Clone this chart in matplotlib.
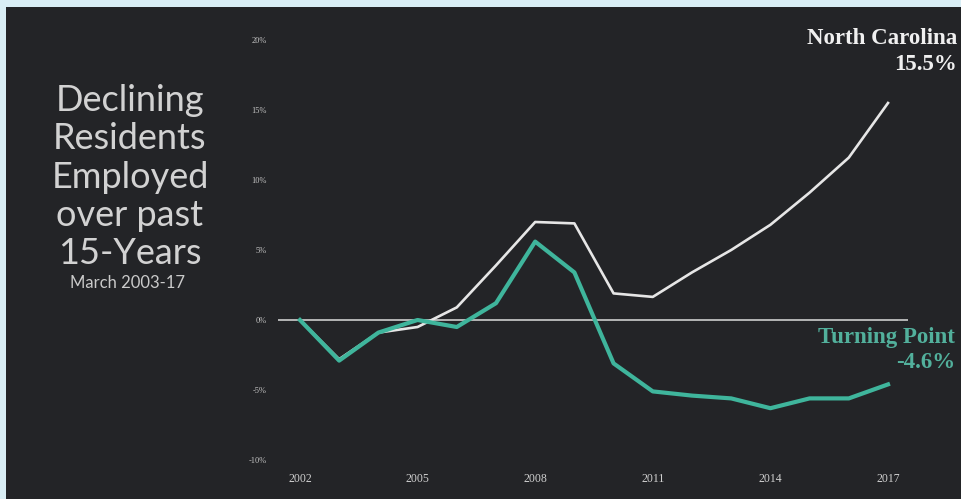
import matplotlib.pyplot as plt
from matplotlib.patches import Rectangle

# Data (percent change since 2002)
years = list(range(2002, 2018))
north_carolina = [0, -2.8, -0.9, -0.5, 0.9, 3.9, 7.0, 6.9, 1.9, 1.65, 3.4, 5.0, 6.8, 9.1, 11.6, 15.5]
turning_point = [0, -2.9, -0.9, 0.0, -0.5, 1.2, 5.6, 3.4, -3.1, -5.1, -5.4, -5.6, -6.3, -5.6, -5.6, -4.6]
x_ticks = [2002, 2005, 2008, 2011, 2014, 2017]
y_ticks = [-10, -5, 0, 5, 10, 15, 20]

bg = '#232427'
border = '#d9eef5'
teal = '#3fb59c'
light = '#e6e6e6'

fig = plt.figure(figsize=(9.61, 4.99), dpi=100)
fig.patch.set_facecolor(border)
fig.patches.append(Rectangle((6 / 961, 0), 1, (499 - 7) / 499, transform=fig.transFigure,
                             facecolor=bg, edgecolor='none', zorder=-5))

ax = fig.add_axes([278 / 961, 39 / 499, 630 / 961, 420 / 499])
ax.set_zorder(2)
ax.set_facecolor('none')
ax.set_xlim(2001.44, 2017.51)
ax.set_ylim(-10, 20)

ax.axhline(0, color='#dcdcdc', lw=1.1, zorder=1)
ax.plot(years, north_carolina, color=light, lw=1.9, zorder=2)
ax.plot(years, turning_point, color=teal, lw=3.0, zorder=3)

for s in ax.spines.values():
    s.set_visible(False)
ax.set_xticks(x_ticks)
ax.set_yticks(y_ticks)
ax.set_yticklabels([f'{v}%' for v in y_ticks])
ax.tick_params(length=0)
ax.tick_params(axis='x', pad=9, labelsize=8.5, labelcolor='#d0d0d0')
ax.tick_params(axis='y', pad=8, labelsize=6, labelcolor='#c4c4c4')
for lab in ax.get_xticklabels() + ax.get_yticklabels():
    lab.set_fontfamily('Liberation Serif')

# Series labels
lab_kw = dict(ha='right', va='center', fontsize=16.5, fontweight='bold',
              family='Liberation Serif', zorder=3)
fig.text(957 / 961, 1 - 39 / 499, 'North Carolina', color='#f0f0f0', **lab_kw)
fig.text(957 / 961, 1 - 65 / 499, '15.5%', color='#f0f0f0', **lab_kw)
fig.text(955 / 961, 1 - 338 / 499, 'Turning Point', color='#52b09c', **lab_kw)
fig.text(955 / 961, 1 - 362 / 499, '-4.6%', color='#52b09c', **lab_kw)

# Slide title
fig.text(130 / 961, 1 - 177 / 499, 'Declining\nResidents\nEmployed\nover past\n15-Years',
         ha='center', va='center', color='#d2d2d2', fontsize=26, family='Lato',
         linespacing=1.2, zorder=3)
fig.text(128 / 961, 1 - 283 / 499, 'March 2003-17', ha='center', va='center',
         color='#cacaca', fontsize=12, family='Lato', zorder=3)

fig.savefig('out.png', dpi=100, facecolor=fig.get_facecolor())
